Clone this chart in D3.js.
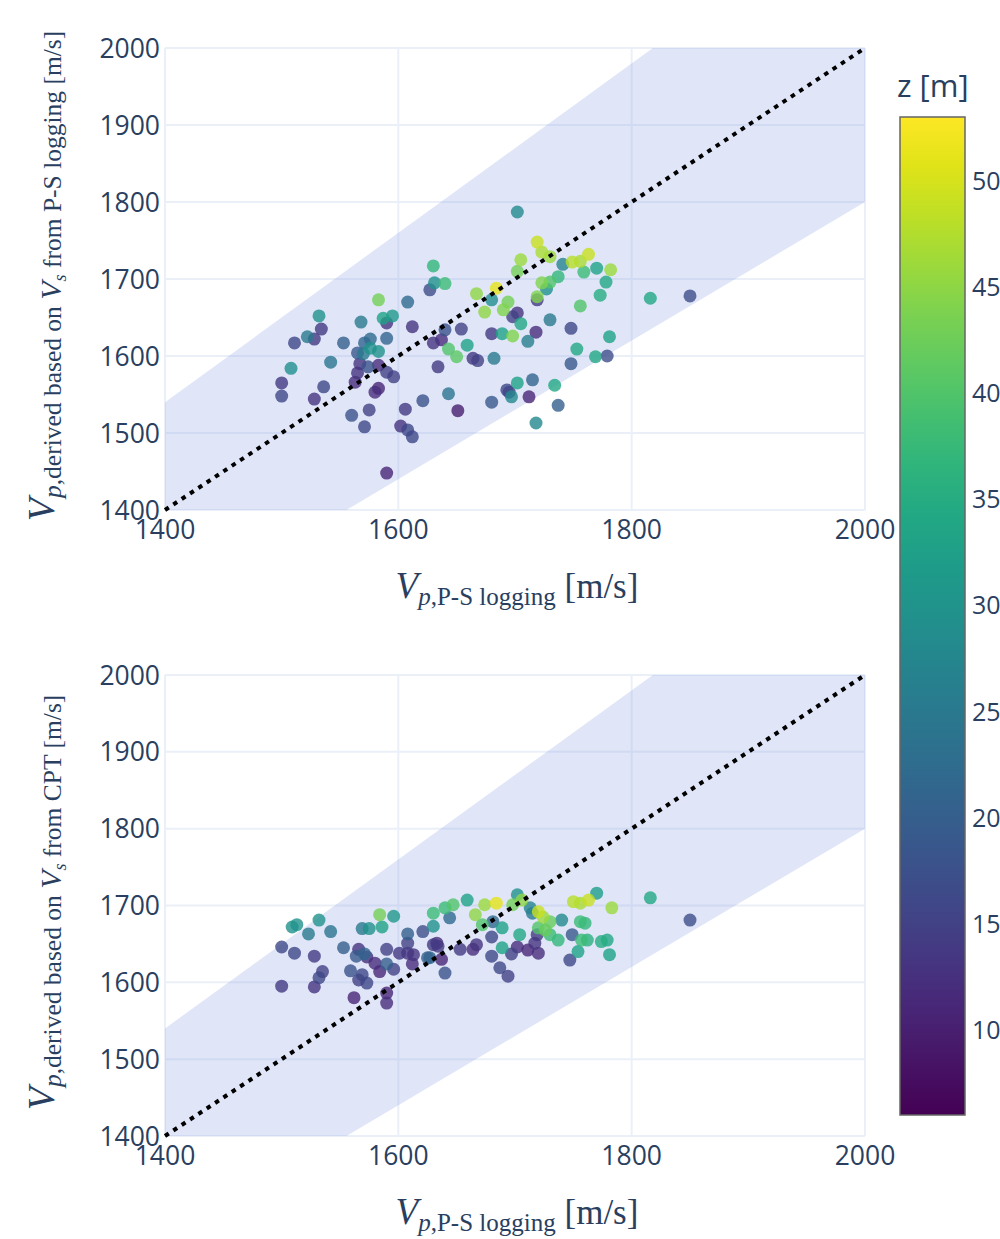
<!DOCTYPE html>
<html>
<head>
<meta charset="utf-8">
<script src="https://cdn.jsdelivr.net/npm/d3@7"></script>
<style>
    body { margin: 0; background: #fff; }
    svg { display: block; }
</style>
</head>
<body>
<svg id="chart" width="1000" height="1239"></svg>
<script>
// axis ticks
const xTicks = [1400, 1600, 1800, 2000];
const yTicks = [1400, 1500, 1600, 1700, 1800, 1900, 2000];
const cbTicks = [10, 15, 20, 25, 30, 35, 40, 45, 50];
const axisRange = [1400, 2000];
const zRange = [6, 53];
const bandFactors = [0.9, 1.1];

// top panel: Vp derived from Vs (P-S logging)
const topX = [1630,1631,1640,1627,1583,1608,1532,1534,1568,1587,
    1595,1590,1612,1511,1522,1528,1553,1576,1571,1590,
    1576,1583,1565,1570,1542,1508,1567,1574,1583,1590,
    1596,1565,1563,1500,1500,1536,1528,1583,1580,1560,
    1575,1571,1606,1602,1608,1612,1621,1643,1651,1590,
    1634,1630,1637,1654,1643,1650,1659,1664,1668,1682,
    1680,1667,1674,1684,1680,1690,1680,1689,1693,1702,
    1719,1723,1730,1705,1702,1741,1749,1756,1763,1759,
    1770,1782,1778,1737,1730,1723,1727,1719,1719,1773,
    1756,1816,1850,1694,1702,1698,1705,1730,1748,1781,
    1718,1711,1698,1753,1748,1769,1779,1702,1715,1734,
    1695,1697,1712,1737,1718,1640];
const topY = [1717,1695,1694,1686,1673,1670,1652,1635,1644,1649,
    1652,1643,1638,1617,1625,1622,1617,1622,1617,1623,
    1610,1606,1604,1603,1592,1584,1590,1586,1588,1579,
    1573,1578,1566,1565,1548,1560,1544,1558,1553,1523,
    1530,1508,1531,1509,1504,1495,1542,1551,1529,1448,
    1586,1617,1621,1635,1609,1599,1614,1597,1594,1597,
    1540,1681,1657,1688,1673,1660,1629,1629,1556,1787,
    1748,1735,1729,1725,1710,1719,1722,1723,1732,1709,
    1714,1712,1696,1703,1696,1695,1687,1677,1673,1679,
    1665,1675,1678,1670,1656,1651,1642,1647,1636,1625,
    1631,1619,1626,1609,1590,1599,1600,1565,1569,1562,
    1553,1547,1547,1536,1513,1634];
const topZ = [37,30,38,17,43,22,30,14,25,33,
    31,13,13,16,25,14,20,22,21,21,
    30,30,19,25,24,29,13,18,12,15,
    15,13,12,14,16,16,13,11,12,18,
    15,16,14,13,16,16,18,24,10,11,
    14,13,12,15,40,41,33,14,15,25,
    19,45,45,51,29,44,14,33,16,28,
    49,47,46,46,43,27,48,47,49,38,
    33,46,34,37,40,44,30,44,14,35,
    40,34,17,43,13,15,34,25,16,33,
    12,26,44,34,19,34,17,33,21,34,
    15,28,11,20,28,18];

// bottom panel: Vp derived from Vs (CPT)
const botX = [1509,1513,1532,1523,1542,1500,1511,1528,1553,1500,
    1528,1535,1532,1584,1596,1569,1575,1586,1566,1571,
    1564,1573,1590,1580,1584,1590,1596,1559,1569,1573,
    1566,1562,1590,1590,1608,1608,1621,1601,1608,1613,
    1612,1630,1634,1637,1627,1640,1630,1640,1647,1659,
    1630,1644,1666,1674,1684,1681,1689,1680,1653,1664,
    1667,1687,1694,1770,1816,1850,1702,1698,1706,1720,
    1724,1730,1720,1726,1713,1715,1740,1750,1756,1763,
    1783,1756,1760,1749,1757,1762,1774,1779,1754,1781,
    1747,1730,1737,1704,1689,1672,1697,1719,1717,1720,
    1702,1711,1680,1633,1625];
const botY = [1672,1675,1681,1663,1666,1646,1638,1634,1645,1595,
    1594,1614,1606,1688,1686,1670,1670,1672,1643,1637,
    1634,1633,1643,1625,1614,1624,1617,1615,1610,1599,
    1603,1580,1586,1573,1663,1651,1666,1638,1638,1636,
    1624,1649,1647,1630,1632,1612,1690,1697,1701,1707,
    1673,1684,1688,1701,1703,1679,1671,1659,1643,1643,
    1649,1619,1608,1716,1710,1681,1714,1701,1707,1692,
    1685,1679,1671,1668,1697,1690,1681,1705,1703,1707,
    1697,1679,1677,1662,1655,1655,1653,1655,1640,1636,
    1629,1662,1655,1662,1645,1675,1637,1662,1651,1638,
    1646,1642,1634,1651,1632];
const botZ = [30,30,30,25,24,16,16,14,20,14,
    13,15,16,43,31,25,30,33,13,21,
    19,12,15,12,11,20,15,18,16,16,
    15,11,11,12,20,15,17,14,13,13,
    12,14,14,11,21,18,38,38,40,33,
    30,22,45,46,51,22,33,16,14,12,
    13,16,15,32,34,17,30,43,45,49,
    46,42,40,42,27,25,28,48,47,49,
    46,38,37,19,38,36,35,34,33,33,
    16,38,37,34,33,40,15,14,13,12,
    12,11,16,12,20];

const svg = d3.select('#chart');
const tickColor = '#2a3f5f';
const gridColor = '#ebf0f8';
const left = 165, right = 865;

const color = d3.scaleSequential(d3.interpolateViridis).domain(zRange);
const x = d3.scaleLinear().domain(axisRange).range([left, right]);

const panels = [
    { xs: topX, ys: topY, zs: topZ, top: 48, bottom: 510, source: 'P-S logging' },
    { xs: botX, ys: botY, zs: botZ, top: 675, bottom: 1136, source: 'CPT' }
];

const drawPanel = (p, i) => {
    const y = d3.scaleLinear().domain(axisRange).range([p.bottom, p.top]);
    const g = svg.append('g');

    g.append('clipPath').attr('id', 'clip' + i)
        .append('rect')
        .attr('x', left).attr('y', p.top)
        .attr('width', right - left).attr('height', p.bottom - p.top);

    // grid
    g.append('g').selectAll('line').data(xTicks).enter().append('line')
        .attr('x1', d => x(d)).attr('x2', d => x(d))
        .attr('y1', p.top).attr('y2', p.bottom)
        .attr('stroke', gridColor).attr('stroke-width', 2);
    g.append('g').selectAll('line').data(yTicks).enter().append('line')
        .attr('x1', left).attr('x2', right)
        .attr('y1', d => y(d)).attr('y2', d => y(d))
        .attr('stroke', gridColor).attr('stroke-width', 2);

    // +-10% band
    const band = [
        [axisRange[0], axisRange[0] * bandFactors[1]],
        [axisRange[1], axisRange[1] * bandFactors[1]],
        [axisRange[1], axisRange[1] * bandFactors[0]],
        [axisRange[0], axisRange[0] * bandFactors[0]]
    ];
    g.append('path')
        .attr('clip-path', `url(#clip${i})`)
        .attr('d', d3.line().x(d => x(d[0])).y(d => y(d[1]))(band) + 'Z')
        .attr('fill', 'rgba(100,130,220,0.2)');

    // points, low z first
    const pts = p.xs.map((v, k) => ({ x: v, y: p.ys[k], z: p.zs[k] }))
        .sort((a, b) => a.z - b.z);
    g.append('g').selectAll('circle').data(pts).enter().append('circle')
        .attr('cx', d => x(d.x)).attr('cy', d => y(d.y))
        .attr('r', 6.5)
        .attr('fill', d => color(d.z))
        .attr('opacity', 0.8);

    // 1:1 line
    g.append('line')
        .attr('x1', x(axisRange[0])).attr('y1', y(axisRange[0]))
        .attr('x2', x(axisRange[1])).attr('y2', y(axisRange[1]))
        .attr('stroke', '#000').attr('stroke-width', 4)
        .attr('stroke-dasharray', '4.5,5.5');

    // tick labels
    g.append('g').selectAll('text').data(yTicks).enter().append('text')
        .attr('x', 160).attr('y', d => y(d)).attr('dy', '0.36em')
        .attr('text-anchor', 'end')
        .style('font', '26.5px "Open Sans"').attr('fill', tickColor)
        .text(d => d);
    g.append('g').selectAll('text').data(xTicks).enter().append('text')
        .attr('x', d => x(d)).attr('y', p.bottom + 29)
        .attr('text-anchor', 'middle')
        .style('font', '26.5px "Open Sans"').attr('fill', tickColor)
        .text(d => d);

    // x title
    const xt = g.append('text')
        .attr('x', (left + right) / 2 + 2).attr('y', p.bottom + 88)
        .attr('text-anchor', 'middle')
        .style('font-family', '"Liberation Serif", serif').attr('fill', tickColor);
    xt.append('tspan').style('font-size', '37px').style('font-style', 'italic').text('V');
    xt.append('tspan').attr('dy', 7).style('font-size', '25px').style('font-style', 'italic').text('p');
    xt.append('tspan').style('font-size', '25px').text(',P-S logging');
    xt.append('tspan').attr('dy', -7).style('font-size', '35px').text(' [m/s]');

    // y title
    const yt = g.append('text')
        .attr('transform', `translate(54,${(p.top + p.bottom) / 2 - 3}) rotate(-90)`)
        .attr('text-anchor', 'middle')
        .style('font-family', '"Liberation Serif", serif').attr('fill', tickColor);
    yt.append('tspan').style('font-size', '38px').style('font-style', 'italic').text('V');
    yt.append('tspan').attr('dy', 7).style('font-size', '25.5px').style('font-style', 'italic').text('p');
    yt.append('tspan').style('font-size', '25.5px').text(',derived based on ');
    yt.append('tspan').style('font-size', '30px').style('font-style', 'italic').text('V');
    yt.append('tspan').attr('dy', 5).style('font-size', '18px').style('font-style', 'italic').text('s');
    yt.append('tspan').attr('dy', -5).style('font-size', '25.5px').text(' from ' + p.source + ' [m/s]');
};

panels.forEach(drawPanel);

// colorbar
const cbTop = 117, cbBottom = 1115, cbLeft = 900, cbWidth = 65;
const cy = d3.scaleLinear().domain(zRange).range([cbBottom, cbTop]);

const grad = svg.append('defs').append('linearGradient')
    .attr('id', 'viridis')
    .attr('x1', 0).attr('y1', 1).attr('x2', 0).attr('y2', 0);
grad.selectAll('stop').data(d3.range(0, 1.0001, 0.05)).enter().append('stop')
    .attr('offset', d => d)
    .attr('stop-color', d => d3.interpolateViridis(d));

svg.append('rect')
    .attr('x', cbLeft).attr('y', cbTop)
    .attr('width', cbWidth).attr('height', cbBottom - cbTop)
    .attr('fill', 'url(#viridis)')
    .attr('stroke', '#666').attr('stroke-width', 1.5);

svg.append('g').selectAll('text').data(cbTicks).enter().append('text')
    .attr('x', cbLeft + cbWidth + 7).attr('y', d => cy(d)).attr('dy', '0.36em')
    .style('font', '25px "Open Sans"').attr('fill', tickColor)
    .text(d => d);

svg.append('text')
    .attr('x', 897).attr('y', 97)
    .style('font', '31px "Open Sans"').attr('fill', tickColor)
    .text('z [m]');
</script>
</body>
</html>
